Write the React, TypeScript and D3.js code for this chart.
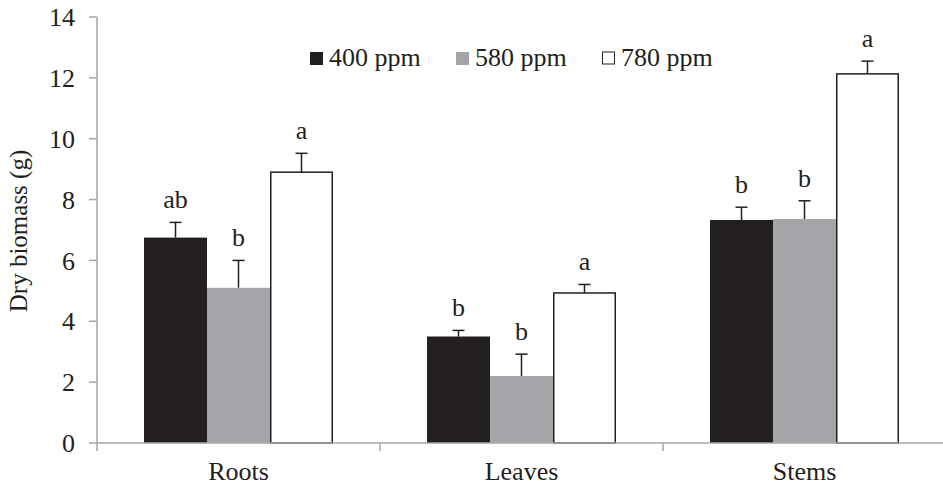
import React from "react";
import * as d3 from "d3";

const organs = ["Roots", "Leaves", "Stems"];
const treatments = ["400 ppm", "580 ppm", "780 ppm"];
const fills = ["#231f20", "#a4a5a8", "#ffffff"];

// means and upper error per organ, order 400 / 580 / 780
const means = [
  [6.75, 5.1, 8.9],
  [3.5, 2.2, 4.93],
  [7.33, 7.36, 12.13],
];
const errors = [
  [0.5, 0.9, 0.62],
  [0.2, 0.72, 0.28],
  [0.42, 0.6, 0.42],
];
const letters = [
  ["ab", "b", "a"],
  ["b", "b", "a"],
  ["b", "b", "a"],
];
const yTicks = [0, 2, 4, 6, 8, 10, 12, 14];

const W = 943;
const H = 487;
const font = "'Liberation Serif', 'Times New Roman', serif";
const axisColor = "#a6a6a6";

export default function App() {
  const x = d3.scaleBand().domain(organs).range([97, 946]);
  const y = d3.scaleLinear().domain([0, 14]).range([443, 17]);
  const inner = d3
    .scaleBand()
    .domain(treatments)
    .range([0, x.bandwidth()])
    .paddingOuter(0.5 * (94 / 63))
    .paddingInner(0);

  return (
    <svg width={W} height={H} style={{ position: "absolute", left: 0, top: 0, background: "#fff" }} fontFamily={font}>
      {/* y axis */}
      <line x1={97} x2={97} y1={y(14)} y2={y(0)} stroke={axisColor} strokeWidth={1.5} />
      {yTicks.map((t) => (
        <g key={t}>
          <line x1={89} x2={97} y1={y(t)} y2={y(t)} stroke={axisColor} strokeWidth={1.5} />
          <text x={75} y={y(t)} dy="0.35em" textAnchor="end" fontSize={26} fill="#231f20">
            {t}
          </text>
        </g>
      ))}
      <text
        transform={`translate(27,${231}) rotate(-90)`}
        textAnchor="middle"
        fontSize={25}
        fill="#231f20"
      >
        Dry biomass (g)
      </text>

      {/* bars */}
      {organs.map((o, i) => (
        <g key={o} transform={`translate(${x(o)},0)`}>
          {treatments.map((t, j) => {
            const bx = inner(t) as number;
            const bw = inner.bandwidth();
            const cx = bx + bw / 2;
            const top = y(means[i][j]);
            const et = y(means[i][j] + errors[i][j]);
            const isOpen = j === 2;
            return (
              <g key={t}>
                <line x1={cx} x2={cx} y1={top} y2={et} stroke="#231f20" strokeWidth={1.5} />
                <line x1={cx - 6} x2={cx + 6} y1={et} y2={et} stroke="#231f20" strokeWidth={1.5} />
                <rect
                  x={isOpen ? bx + 0.75 : bx}
                  y={top}
                  width={isOpen ? bw - 1.5 : bw}
                  height={y(0) - top}
                  fill={fills[j]}
                  stroke={isOpen ? "#231f20" : "none"}
                  strokeWidth={1.5}
                />
                <text x={cx} y={et - 14} textAnchor="middle" fontSize={26} fill="#231f20">
                  {letters[i][j]}
                </text>
              </g>
            );
          })}
        </g>
      ))}

      {/* x axis */}
      <line x1={97} x2={946} y1={y(0)} y2={y(0)} stroke={axisColor} strokeWidth={1.5} />
      {organs.map((o) => (
        <line key={o} x1={x(o)} x2={x(o)} y1={y(0)} y2={y(0) + 8} stroke={axisColor} strokeWidth={1.5} />
      ))}
      {organs.map((o) => (
        <text
          key={o}
          x={(x(o) as number) + x.bandwidth() / 2}
          y={480}
          textAnchor="middle"
          fontSize={26}
          fill="#231f20"
        >
          {o}
        </text>
      ))}

      {/* legend */}
      {treatments.map((t, j) => {
        const lx = 310 + j * 146;
        return (
          <g key={t}>
            <rect
              x={lx + (j === 2 ? 0.5 : 0)}
              y={52}
              width={j === 2 ? 12 : 13}
              height={j === 2 ? 12 : 13}
              fill={fills[j]}
              stroke={j === 2 ? "#231f20" : "none"}
              strokeWidth={1}
            />
            <text x={lx + 19} y={66} fontSize={26} fill="#231f20">
              {t}
            </text>
          </g>
        );
      })}
    </svg>
  );
}
